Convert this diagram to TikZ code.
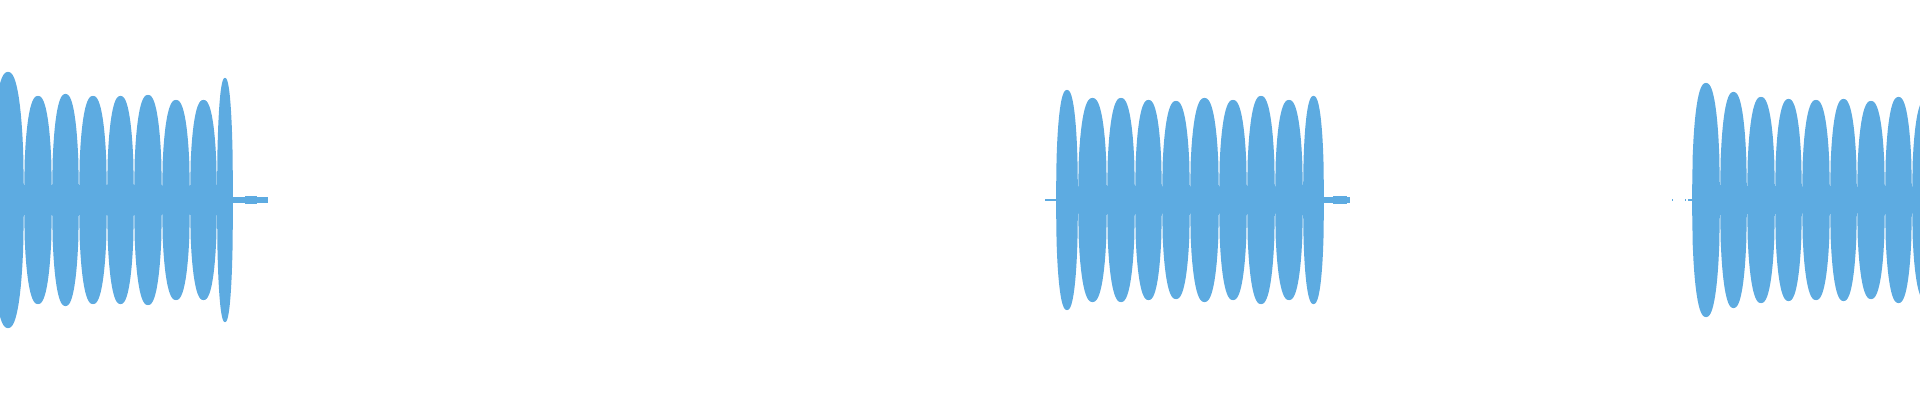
\documentclass[tikz,border=0pt]{standalone}
\definecolor{wave}{RGB}{93,171,225}
\newcommand{\wlobe}[3]{%
\fill[wave] plot[domain=#1:#2,samples=40] (\x,{200+(#3)*pow(max(1-pow(abs(2*(\x-#1)/(#2-#1)-1)+0.0001,2.4),0)+0.0001,0.45)})
 -- plot[domain=#2:#1,samples=40] (\x,{200-(#3)*pow(max(1-pow(abs(2*(\x-#1)/(#2-#1)-1)+0.0001,2.4),0)+0.0001,0.45)}) -- cycle;}
\begin{document}
\begin{tikzpicture}[x=1pt,y=1pt]
\useasboundingbox (0,0) rectangle (1920,400);
% burst 1
\fill[wave] (0,187) rectangle (233,213);
\wlobe{-8}{24}{128}
\foreach \a/\b/\h in {24/52/104,52/79/106,79/107/104,107/134/104,134/162/105,162/190/100,190/217/100}{\wlobe{\a}{\b}{\h}}
\wlobe{217}{233}{122}
\fill[wave] (233,197) rectangle (268,203);
\fill[wave] (245,196) rectangle (257,204);
% burst 2
\fill[wave] (1045,199.3) rectangle (1058,200.7);
\fill[wave] (1058,187) rectangle (1323,213);
\wlobe{1056}{1078}{110}
\foreach \a/\b/\h in {1078/1107/102,1107/1135/102,1135/1162/100,1162/1190/99,1190/1219/102,1219/1247/100,1247/1275/104,1275/1303/100}{\wlobe{\a}{\b}{\h}}
\wlobe{1303}{1324}{104}
\fill[wave] (1323,197) rectangle (1350,203);
\fill[wave] (1333,196) rectangle (1347,204);
% burst 3
\fill[wave] (1672,199.3) rectangle (1673,200.7);
\fill[wave] (1685,199.3) rectangle (1686,200.7);
\fill[wave] (1688,199.3) rectangle (1696,200.7);
\fill[wave] (1696,187) rectangle (1920,213);
\wlobe{1692}{1720}{117}
\foreach \a/\b/\h in {1720/1747/108,1747/1775/103,1775/1802/101,1802/1830/100,1830/1857/101,1857/1885/99,1885/1912/103,1912/1940/101}{\wlobe{\a}{\b}{\h}}
\end{tikzpicture}
\end{document}
